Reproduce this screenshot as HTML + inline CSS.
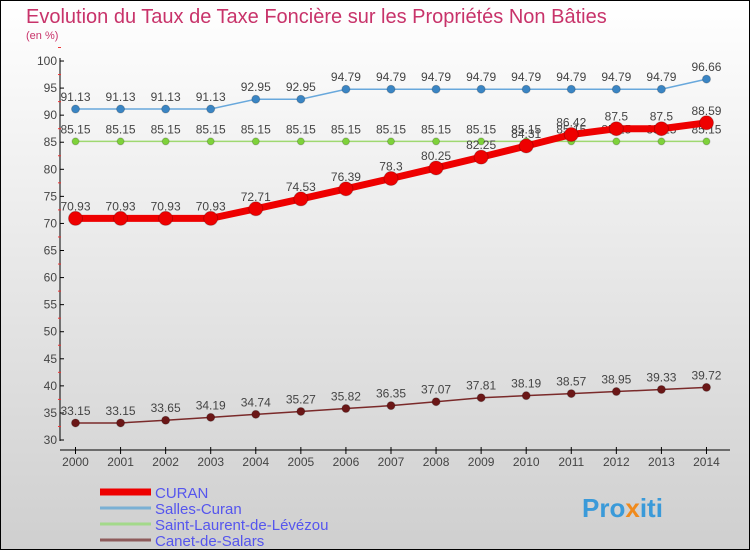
<!DOCTYPE html>
<html><head><meta charset="utf-8"><style>
body{margin:0;width:750px;height:550px;overflow:hidden;font-family:"Liberation Sans",sans-serif}
#wrap{position:absolute;left:0;top:0;width:748px;height:548px;border:1px solid #000;background:linear-gradient(#ffffff,#cfcfcf)}
</style></head><body>
<div id="wrap">
<svg id="chart" width="750" height="550" style="position:absolute;left:-1px;top:-1px">
<text x="26" y="23" font-size="20" fill="#c8336a">Evolution du Taux de Taxe Foncière sur les Propriétés Non Bâties</text>
<text x="26" y="39" font-size="11" fill="#c8336a">(en %)</text>
<g id="axes"></g><g id="series"></g><g id="legend"></g>
<text x="582" y="517" font-size="26" font-weight="bold" fill="#3a9ad9">Pro<tspan fill="#f08a1c">x</tspan>iti</text>
</svg></div>
<script>
const years=[2000,2001,2002,2003,2004,2005,2006,2007,2008,2009,2010,2011,2012,2013,2014];
const yTicks=[30,35,40,45,50,55,60,65,70,75,80,85,90,95,100];
const curan=[70.93,70.93,70.93,70.93,72.71,74.53,76.39,78.3,80.25,82.25,84.31,86.42,87.5,87.5,88.59];
const salles=[91.13,91.13,91.13,91.13,92.95,92.95,94.79,94.79,94.79,94.79,94.79,94.79,94.79,94.79,96.66];
const saint=[85.15,85.15,85.15,85.15,85.15,85.15,85.15,85.15,85.15,85.15,85.15,85.15,85.15,85.15,85.15];
const canet=[33.15,33.15,33.65,34.19,34.74,35.27,35.82,36.35,37.07,37.81,38.19,38.57,38.95,39.33,39.72];
const NS="http://www.w3.org/2000/svg";
const X=i=>75.5+i*45.07;
const Y=v=>440-(v-30)*5.414;
function mk(t,a,p){const e=document.createElementNS(NS,t);for(const k in a)e.setAttribute(k,a[k]);p.appendChild(e);return e;}
const ax=document.getElementById('axes');
const yl=mk('line',{x1:60,y1:58,x2:60,y2:441,stroke:'#000'},ax);


yTicks.forEach(v=>{
 mk('line',{x1:60,y1:Y(v),x2:64,y2:Y(v),stroke:'#000'},ax);
 mk('line',{x1:58,y1:Y(v+2.5),x2:61,y2:Y(v+2.5),stroke:'#e33'},ax);
 const t=mk('text',{x:57,y:Y(v)+4,'font-size':12,'text-anchor':'end',fill:'#444'},ax);t.textContent=v;
 
 
});
const xl=mk('line',{x1:60,y1:450,x2:730,y2:450,stroke:'#000'},ax);


years.forEach((y,i)=>{
 mk('line',{x1:X(i),y1:447,x2:X(i),y2:454,stroke:'#000'},ax);
 const t=mk('text',{x:X(i),y:466,'font-size':12,'text-anchor':'middle',fill:'#444'},ax);t.textContent=y;
 
 
});
const sg=document.getElementById('series');
function series(data,color,lw,r,fill,name){
 const g=mk('g',{},sg);
 
 
 const l=mk('polyline',{points:data.map((v,i)=>X(i)+','+Y(v)).join(' '),fill:'none',stroke:color,'stroke-width':lw},g);
 
 
 data.forEach((v,i)=>{
  const c=mk('circle',{cx:X(i),cy:Y(v),r:r,fill:fill,stroke:'#0003'},g);
  
  
  const t=mk('text',{x:X(i),y:Y(v)-8,'font-size':12,'text-anchor':'middle',fill:'#444'},g);t.textContent=v;
  
  
 });
}
series(canet,'#7a2a2a',1.5,4,'#6b1717','canet');
series(saint,'#9fd870',1.5,3.5,'#7ed23a','saint-laurent');
series(salles,'#68a8dc',1.5,4,'#3a85c4','salles-curan');
series(curan,'#ee0000',7,7,'#ee0000','curan');
const lg=document.getElementById('legend');
[['CURAN','#ee0000',7],['Salles-Curan','#7ab0d4',3],['Saint-Laurent-de-Lévézou','#a3d98a',3],['Canet-de-Salars','#8e5b5b',3]].forEach((d,i)=>{
 const y=492+i*16;
 const l=mk('line',{x1:100,y1:y,x2:151,y2:y,stroke:d[1],'stroke-width':d[2]},lg);
 
 
 const t=mk('text',{x:155,y:y+6,'font-size':15,fill:'#5555ee'},lg);t.textContent=d[0];
 
 
});
</script>
</body></html>
